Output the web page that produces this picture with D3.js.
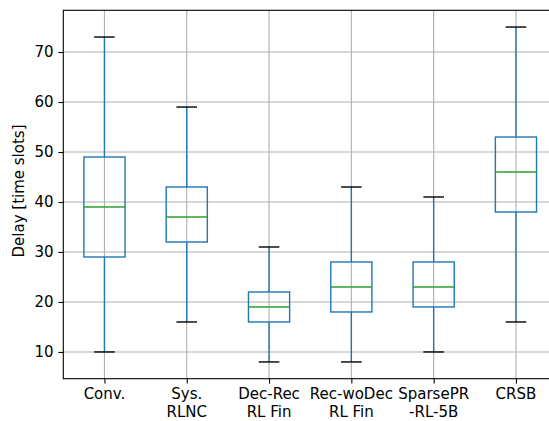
<!DOCTYPE html>
<html>
<head>
<meta charset="utf-8">
<script src="https://cdn.jsdelivr.net/npm/d3@7"></script>
<style>
  html, body { margin: 0; padding: 0; background: #fff; }
  svg { display: block; }
  text { font-family: "DejaVu Sans", sans-serif; }
</style>
</head>
<body>
<script>
const categories = ["Conv.", "Sys.\nRLNC", "Dec-Rec\nRL Fin", "Rec-woDec\nRL Fin", "SparsePR\n-RL-5B", "CRSB"];
const whiskerLow  = [10, 16, 8, 8, 10, 16];
const q1          = [29, 32, 16, 18, 19, 38];
const medians     = [39, 37, 19, 23, 23, 46];
const q3          = [49, 43, 22, 28, 28, 53];
const whiskerHigh = [73, 59, 31, 43, 41, 75];
const yTicks = [10, 20, 30, 40, 50, 60, 70];
const yLabel = "Delay [time slots]";

(function () {
const W = 549, H = 421;
const pL = 63.3, pT = 10.3, pB = 378.7, pR = 63.3 + 6 * 82.3;

const svg = d3.select("body").append("svg").attr("width", W).attr("height", H);

const x = d3.scaleLinear().domain([0.5, 6.5]).range([pL, pR]);
const y = d3.scaleLinear().domain([4.65, 78.35]).range([pB, pT]);

const fs = 15;
const gridColor = "#b0b0b0";

// grid
const g = svg.append("g");
g.selectAll(".hg").data(yTicks).join("line")
  .attr("x1", pL).attr("x2", pR)
  .attr("y1", d => y(d)).attr("y2", d => y(d))
  .attr("stroke", gridColor).attr("stroke-width", 1.1);
g.selectAll(".vg").data(categories).join("line")
  .attr("x1", (d, i) => x(i + 1)).attr("x2", (d, i) => x(i + 1))
  .attr("y1", pT).attr("y2", pB)
  .attr("stroke", gridColor).attr("stroke-width", 1.1);

// boxes
const blue = "#1f77b4", green = "#2ca02c";
const bw = 0.25, cw = 0.125;
const data = categories.map((c, i) => ({i, lo: whiskerLow[i], q1: q1[i], med: medians[i], q3: q3[i], hi: whiskerHigh[i]}));
const bx = svg.append("g");
data.forEach(d => {
  const cx = x(d.i + 1);
  bx.append("line").attr("x1", cx).attr("x2", cx).attr("y1", y(d.q1)).attr("y2", y(d.lo))
    .attr("stroke", blue).attr("stroke-width", 1.4);
  bx.append("line").attr("x1", cx).attr("x2", cx).attr("y1", y(d.q3)).attr("y2", y(d.hi))
    .attr("stroke", blue).attr("stroke-width", 1.4);
  [d.lo, d.hi].forEach(v => {
    bx.append("line").attr("x1", x(d.i + 1 - cw)).attr("x2", x(d.i + 1 + cw))
      .attr("y1", y(v)).attr("y2", y(v)).attr("stroke", "#000").attr("stroke-width", 1.4);
  });
  bx.append("rect").attr("x", x(d.i + 1 - bw)).attr("y", y(d.q3))
    .attr("width", x(d.i + 1 + bw) - x(d.i + 1 - bw)).attr("height", y(d.q1) - y(d.q3))
    .attr("fill", "none").attr("stroke", blue).attr("stroke-width", 1.4);
  bx.append("line").attr("x1", x(d.i + 1 - bw)).attr("x2", x(d.i + 1 + bw))
    .attr("y1", y(d.med)).attr("y2", y(d.med)).attr("stroke", green).attr("stroke-width", 1.4);
});

// spines
svg.append("rect").attr("x", pL).attr("y", pT).attr("width", pR - pL).attr("height", pB - pT)
  .attr("fill", "none").attr("stroke", "#000").attr("stroke-width", 1.1);

// y axis
const ya = svg.append("g").attr("transform", `translate(${pL},0)`)
  .call(d3.axisLeft(y).tickValues(yTicks).tickSize(4.9).tickPadding(4.9).tickFormat(d3.format("d")));
ya.select(".domain").remove();
ya.selectAll("line").attr("stroke", "#000").attr("stroke-width", 1.1);
ya.selectAll("text").attr("font-size", fs).attr("fill", "#000").attr("font-family", "DejaVu Sans");

// x axis
const xa = svg.append("g").attr("transform", `translate(0,${pB})`)
  .call(d3.axisBottom(x).tickValues(d3.range(1, categories.length + 1)).tickSize(4.9).tickFormat(""));
xa.select(".domain").remove();
xa.selectAll("line").attr("stroke", "#000").attr("stroke-width", 1.1);
categories.forEach((c, i) => {
  const lines = c.split("\n");
  const t = svg.append("text").attr("x", x(i + 1)).attr("y", 399)
    .attr("text-anchor", "middle").attr("font-size", fs).attr("fill", "#000");
  lines.forEach((l, j) => t.append("tspan").attr("x", x(i + 1)).attr("dy", j === 0 ? 0 : 17.5).text(l));
});

// y label
svg.append("text").attr("transform", `translate(23.6,191) rotate(-90)`)
  .attr("text-anchor", "middle").attr("font-size", fs).attr("fill", "#000").text(yLabel);
})();
</script>
</body>
</html>
